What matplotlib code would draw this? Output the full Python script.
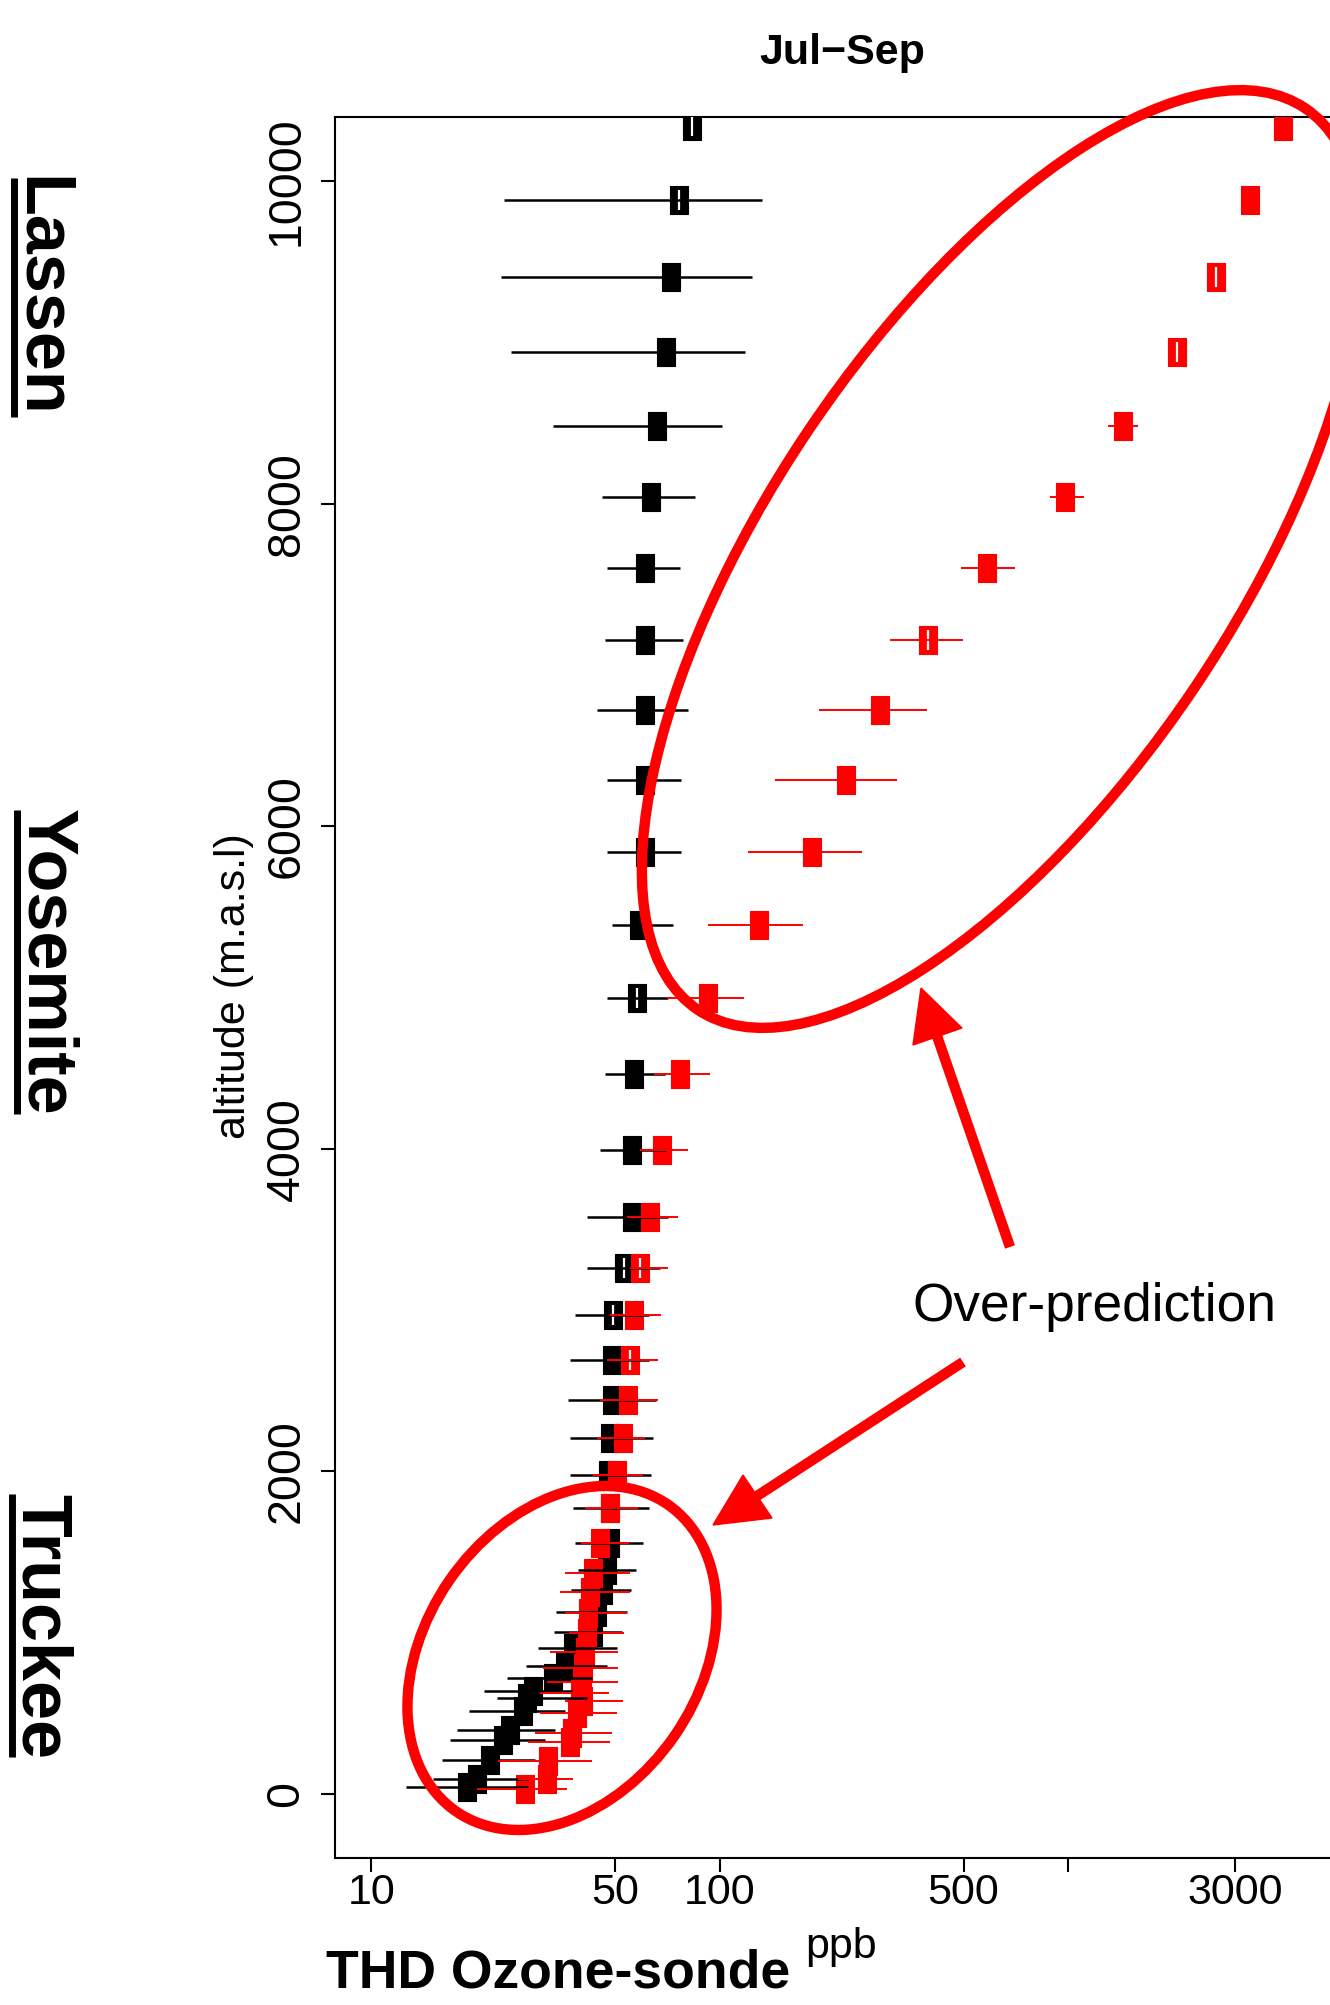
import numpy as np
import matplotlib
matplotlib.use('Agg')
import matplotlib.pyplot as plt
from matplotlib.patches import Ellipse, Polygon
from matplotlib.lines import Line2D
from matplotlib.transforms import IdentityTransform

plt.rcParams['font.family'] = ['Liberation Sans', 'DejaVu Sans']

# ---------------- data ----------------
alt_obs = [10341, 9882, 9407, 8940, 8481, 8041, 7601, 7154, 6720, 6286, 5840,
           5388, 4935, 4464, 3993, 3577, 3261, 2970, 2691, 2443, 2207, 1978,
           1773, 1556, 1389, 1265, 1128, 1004, 905, 794, 719, 638, 595, 514,
           397, 335, 211, 93, 43]
obs = [82.9, 76.3, 72.2, 69.9, 65.9, 63.4, 60.9, 60.9, 60.9, 60.9, 60.9,
       58.6, 57.8, 56.6, 55.9, 55.9, 53.0, 49.3, 49.0, 49.0, 48.3, 47.7,
       48.3, 48.3, 47.4, 46.2, 44.4, 43.2, 37.9, 35.9, 33.2, 29.1, 27.9, 27.2,
       25.0, 23.8, 21.9, 20.1, 18.8]
obs_lo = [82.9, 24.0, 23.5, 25.1, 33.2, 45.8, 47.4, 46.8, 44.4, 47.4, 47.4,
          49.0, 47.4, 46.8, 45.3, 41.5, 41.5, 38.4, 37.1, 36.6, 37.1, 37.1,
          37.9, 38.4, 39.1, 37.4, 33.8, 33.4, 30.0, 27.7, 24.5, 21.0, 22.9, 19.0,
          17.6, 16.8, 15.9, 15.0, 12.6]
obs_hi = [82.9, 131.8, 123.4, 118.0, 101.4, 84.8, 76.8, 78.3, 81.0, 77.3, 77.3,
          73.3, 70.9, 69.5, 70.0, 70.9, 67.3, 62.4, 62.4, 65.5, 64.2, 63.4,
          62.4, 60.1, 57.4, 55.5, 54.1, 52.3, 50.6, 47.4, 42.9, 37.6, 41.5, 35.9,
          33.6, 31.5, 29.4, 28.1, 28.1]
obs_hollow = [0, 1, 12, 16, 17]

alt_mod = [10341, 9882, 9407, 8940, 8481, 8041, 7601, 7154, 6720, 6286, 5840,
           5388, 4935, 4464, 3993, 3577, 3261, 2970, 2691, 2443, 2207, 1978,
           1773, 1556, 1370, 1252, 1122, 998, 880, 781, 694, 626, 577, 502,
           378, 322, 205, 93, 31]
mod = [4125, 3316, 2649, 2047, 1433, 977, 583, 395, 288, 230, 183.6,
       129.4, 92.4, 76.8, 68.2, 63.0, 58.9, 56.6, 55.2, 54.5, 52.7, 50.6,
       48.3, 45.3, 43.2, 42.4, 41.8, 41.5, 41.0, 40.5, 40.2, 39.7, 40.5, 38.9,
       37.6, 37.1, 32.1, 31.9, 27.6]
mod_lo = [4125, 3316, 2649, 2047, 1297, 885, 491, 307, 192, 144, 120,
          92.4, 70.5, 64.7, 58.9, 54.1, 55.2, 48.3, 47.4, 45.3, 44.4, 43.2,
          41.0, 40.0, 35.9, 34.8, 36.0, 37.0, 32.5, 31.0, 31.9, 30.5, 35.9, 30.5,
          29.4, 28.1, 23.1, 26.3, 20.1]
mod_hi = [4125, 3316, 2649, 2047, 1585, 1107, 702, 498, 393, 322, 255,
          173, 117, 93.5, 81.0, 75.7, 70.9, 67.7, 66.4, 66.4, 60.9, 60.1,
          58.2, 55.0, 55.2, 55.2, 54.0, 53.0, 50.9, 50.9, 50.9, 48.1, 52.7, 50.6,
          49.0, 48.3, 42.9, 37.9, 36.4]
mod_hollow = [2, 3, 7, 16, 18]

xticks = [10, 50, 100, 500, 1000, 3000]
xticklabels = ['10', '50', '100', '500', '', '3000']
yticks = [0, 2000, 4000, 6000, 8000, 10000]
yticklabels = ['0', '2000', '4000', '6000', '8000', '10000']
sites = ['Lassen', 'Yosemite', 'Truckee']

# ---------------- figure ----------------
W, H = 1330, 2005
fig = plt.figure(figsize=(W / 100, H / 100), dpi=100)


def fx(x):
    return x / W


def fy(y):
    return 1 - y / H


ax = fig.add_axes([fx(335), fy(1858), (1349 - 335) / W, (1858 - 117) / H])
ax.set_xscale('log')
ax.set_xlim(7.86, 6383)
ax.set_ylim(-397, 10397)

rect = [(-0.31, -0.5), (0.31, -0.5), (0.31, 0.5), (-0.31, 0.5), (-0.31, -0.5)]

# markers
ax.plot(obs, alt_obs, ls='none', marker=rect, ms=20, color='black',
        mec='black', mew=0.8, zorder=2)
ax.plot(mod, alt_mod, ls='none', marker=rect, ms=20, color='#ff0000',
        mec='#ff0000', mew=0.8, zorder=3)
# hollow slits
ax.plot([obs[i] for i in obs_hollow], [alt_obs[i] for i in obs_hollow],
        ls='none', marker='|', ms=14, mew=1.6, color='white', zorder=3.5)
ax.plot([mod[i] for i in mod_hollow], [alt_mod[i] for i in mod_hollow],
        ls='none', marker='|', ms=14, mew=1.6, color='white', zorder=3.5)
# error bars
ax.hlines(alt_obs, obs_lo, obs_hi, colors='black', lw=1.8, zorder=4)
ax.hlines(alt_mod, mod_lo, mod_hi, colors='#ff0000', lw=1.4, zorder=5)

# axes styling
ax.spines['right'].set_visible(False)
for s in ['left', 'bottom', 'top']:
    ax.spines[s].set_linewidth(1.5)
ax.set_xticks(xticks)
ax.set_xticklabels(xticklabels)
ax.xaxis.set_minor_locator(matplotlib.ticker.NullLocator())
ax.set_yticks(yticks)
ax.set_yticklabels(yticklabels, rotation=90, va='center')
ax.tick_params(axis='both', direction='out', length=10, width=1.5,
               labelsize=31, colors='black')
ax.tick_params(axis='x', pad=1)
ax.tick_params(axis='y', pad=9, labelsize=33.5)

# texts
fig.text(fx(842), fy(64), 'Jul\u2212Sep', ha='center', va='baseline',
         fontsize=31, fontweight='bold')
fig.text(fx(234), fy(986), 'altitude (m.a.s.l)', rotation=90, ha='center',
         va='center', fontsize=31)
fig.text(fx(326), fy(1988), 'THD Ozone-sonde', ha='left', va='baseline',
         fontsize=38.5, fontweight='bold')
fig.text(fx(805), fy(1958), 'ppb', ha='left', va='baseline', fontsize=31)
fig.text(fx(913), fy(1321), 'Over-prediction', ha='left', va='baseline',
         fontsize=38.3)

# site labels with underline
site_x = [40, 45, 40]
site_y = [297, 962, 1627]
ul_x = [13.7, 16.5, 12.0]
ul_y = [(178, 417), (810, 1114), (1494, 1757)]
for name, x, y, ux, (u0, u1) in zip(sites, site_x, site_y, ul_x, ul_y):
    fig.text(fx(x), fy(y), name, rotation=-90, ha='center', va='center',
             fontsize=50.5, fontweight='bold')
    fig.add_artist(Line2D([fx(ux), fx(ux)], [fy(u0), fy(u1)],
                          transform=fig.transFigure, lw=5, color='black',
                          solid_capstyle='butt'))

# annotation ellipses (pixel coordinates, y up)
red = '#ff0000'
fig.add_artist(Ellipse((1001.5, H - 559), 2 * 543.5, 2 * 232, angle=56.0,
                       transform=IdentityTransform(), fill=False,
                       edgecolor=red, lw=7.5))
fig.add_artist(Ellipse((562, H - 1658), 2 * 186.4, 2 * 136.8, angle=55.4,
                       transform=IdentityTransform(), fill=False,
                       edgecolor=red, lw=7.5))

# arrows
arrows = [((1010, 1247), (937, 1036), [(921, 988), (913, 1045), (962, 1028)]),
          ((963, 1362), (757, 1496), [(713, 1525), (743, 1475), (772, 1518)])]
for (x0, y0), (x1, y1), head in arrows:
    fig.add_artist(Line2D([fx(x0), fx(x1)], [fy(y0), fy(y1)],
                          transform=fig.transFigure, lw=7.5, color=red,
                          solid_capstyle='butt'))
    fig.add_artist(Polygon([(fx(a), fy(b)) for a, b in head], closed=True,
                           transform=fig.transFigure, facecolor=red,
                           edgecolor=red, lw=1))

fig.savefig('out.png', dpi=100, facecolor='white')
